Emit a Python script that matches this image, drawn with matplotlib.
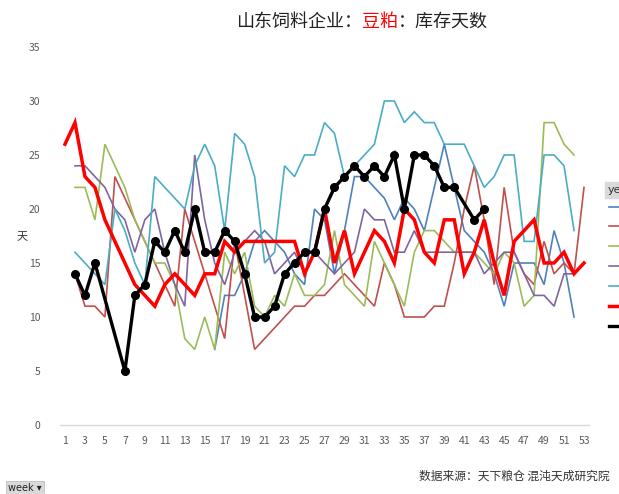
import numpy as np
import matplotlib
matplotlib.use("Agg")
import matplotlib.pyplot as plt

plt.rcParams['font.family'] = ['Noto Sans CJK SC', 'DejaVu Sans']

nan = np.nan
weeks = list(range(1, 54))
xticks = list(range(1, 54, 2))
yticks = [0, 5, 10, 15, 20, 25, 30, 35]

# values by week 1..53 (nan = no data)
s2015 = [nan]*15 + [7, 12, 12, 14, 17, 18, 17, 16, 14, 13, 20, 19, 14, 18, 23, 23, 22, 21, 19, 21,
                    20, 18, 22, 26, 22, 18, 17, 16, 14, 11, 15, 15, 15, 13, 18, 15, 10, nan]
s2016 = [nan, 14, 11, 11, 10, 23, 21, 19, 17, 15, 13, 11, 20, 17, 14, 11, 8, 17, 12, 7,
         8, 9, 10, 11, 11, 12, 12, 13, 14, 13, 12, 11, 15, 13, 10, 10, 10, 11, 11, 15,
         20, 24, 19, 13, 22, 16, 14, 13, 17, 14, 15, 14, 22]
s2017 = [nan, 22, 22, 19, 26, 24, 22, 19, 17, 15, 15, 13, 8, 7, 10, 7, 16, 14, 16, 11,
         10, 12, 11, 14, 12, 12, 13, 18, 13, 12, 11, 17, 15, 13, 11, 16, 18, 18, 17, 16,
         16, 16, 15, 14, 16, 15, 11, 12, 28, 28, 26, 25, nan]
s2018 = [nan, 24, 24, 23, 22, 20, 19, 16, 19, 20, 16, 13, 11, 25, 19, 15, 13, 16, 17, 18,
         17, 14, 15, 16, 14, 16, 15, 14, 15, 16, 20, 19, 19, 16, 16, 18, 16, 16, 16, 16,
         16, 16, 14, 15, 16, 16, 14, 12, 12, 11, 14, 14, nan]
s2019 = [nan, 16, 15, 14, 13, 20, 18, 15, 13, 23, 22, 21, 20, 24, 26, 24, 18, 27, 26, 23,
         15, 16, 24, 23, 25, 25, 28, 27, 23, 24, 25, 26, 30, 30, 28, 29, 28, 28, 26, 26,
         26, 24, 22, 23, 25, 25, 17, 17, 25, 25, 24, 18, nan]
s2020 = [26, 28, 23, 22, 19, 17, 15, 13, 12, 11, 13, 14, 13, 12, 14, 14, 17, 16, 17, 17,
         17, 17, 17, 17, 14, 16, 20, 15, 18, 14, 16, 18, 17, 15, 20, 19, 16, 15, 19, 19,
         14, 16, 19, 15, 12, 17, 18, 19, 15, 15, 16, 14, 15]
s2021 = [nan, 14, 12, 15, nan, nan, 5, 12, 13, 17, 16, 18, 16, 20, 16, 16, 18, 17, 14, 10,
         10, 11, 14, 15, 16, 16, 20, 22, 23, 24, 23, 24, 23, 25, 20, 25, 25, 24, 22, 22,
         nan, 19, 20] + [nan]*10

series = [
    ("2015", s2015, "#4F81BD", 1.2, False),
    ("2016", s2016, "#C0504D", 1.2, False),
    ("2017", s2017, "#9BBB59", 1.2, False),
    ("2018", s2018, "#8064A2", 1.2, False),
    ("2019", s2019, "#4BACC6", 1.2, False),
    ("2020", s2020, "#FF0000", 2.5, False),
    ("2021", s2021, "#000000", 2.4, True),
]

W, H = 619, 494
fig = plt.figure(figsize=(W/100, H/100), dpi=100)
ax = fig.add_axes([60/W, 1-425/H, (589-60)/W, (425-47)/H])

handles = []
for name, vals, col, lw, mk in series:
    x = np.array(weeks, dtype=float)
    y = np.array(vals, dtype=float)
    m = ~np.isnan(y)
    h, = ax.plot(x[m], y[m], color=col, lw=lw, marker='o' if mk else None,
                 markersize=5.5, solid_joinstyle='miter', label=name, zorder=3 if lw > 2 else 2)
    handles.append(h)

ax.set_xlim(0.5, 53.5)
ax.set_ylim(0, 35)
ax.set_xticks(xticks)
ax.set_yticks(yticks)
ax.tick_params(axis='both', length=0, labelsize=7.5, colors='#595959')
ax.tick_params(axis='x', pad=8)
ax.tick_params(axis='y', pad=14)
for s in ['top', 'right', 'left']:
    ax.spines[s].set_visible(False)
ax.spines['bottom'].set_color('#D9D9D9')
ax.spines['bottom'].set_linewidth(1.0)

fig.text(22/W, 1-237/H, "天", fontsize=8, rotation=0, ha='center', va='center', color='#333333')

# title in three parts
fig.canvas.draw()
r = fig.canvas.get_renderer()
parts = [("山东饲料企业：", "#222222"), ("豆粕", "#FF0000"), ("：库存天数", "#222222")]
x0 = 236/W
for txt, col in parts:
    t = fig.text(x0, 1-22/H, txt, fontsize=13, color=col, ha='left', va='center')
    bb = t.get_window_extent(renderer=r)
    x0 = bb.x1 / fig.bbox.width

fig.text(610/W, 1-476/H, "数据来源：天下粮仓 混沌天成研究院", fontsize=8.5, color='#333333',
         ha='right', va='center')

fig.text(8/W, 1-488/H, "week ▾", fontsize=7, color='#222222', ha='left', va='center',
         family=['DejaVu Sans'],
         bbox=dict(boxstyle='square,pad=0.25', fc='#D9D9D9', ec='#BFBFBF', lw=0.6))
fig.text(608/W, 1-190/H, "year", fontsize=8, color='#333333', ha='left', va='center',
         family=['DejaVu Sans'],
         bbox=dict(boxstyle='square,pad=0.3', fc='#D9D9D9', ec='#D9D9D9'))

fig.legend(handles=handles, loc='upper left', bbox_to_anchor=(609/W, 1-201/H),
           frameon=False, fontsize=9, handlelength=2.5, labelspacing=0.55,
           borderaxespad=0, borderpad=0)

fig.savefig("out.png", dpi=100, facecolor='white')
